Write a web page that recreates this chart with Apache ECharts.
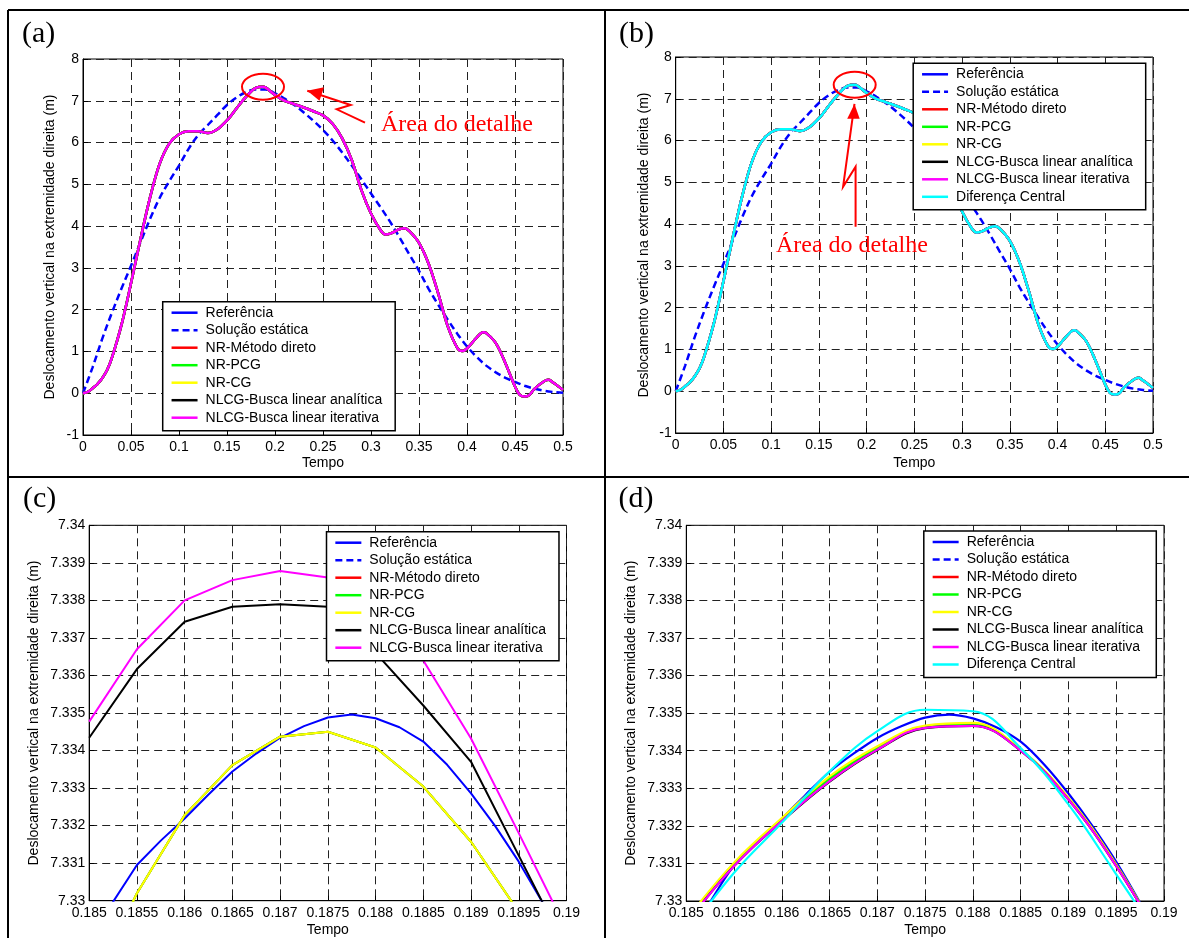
<!DOCTYPE html>
<html>
<head>
<meta charset="utf-8">
<script src="https://cdn.jsdelivr.net/npm/echarts@6/dist/echarts.min.js"></script>
<style>
  html, body { margin: 0; padding: 0; background: #fff; }
  #chart { width: 1189px; height: 938px; }
</style>
</head>
<body>
<div id="chart"></div>
<script>
// ---------- dados ----------
const nomesSeries = ['Referência', 'Solução estática', 'NR-Método direto', 'NR-PCG', 'NR-CG',
  'NLCG-Busca linear analítica', 'NLCG-Busca linear iterativa', 'Diferença Central'];

// resposta completa (0 a 0.5 s)
const tempoGeral = [0, 0.005, 0.01, 0.015, 0.02, 0.025, 0.03, 0.04, 0.05, 0.06, 0.07, 0.08, 0.09, 0.1,
  0.11, 0.12, 0.13, 0.14, 0.15, 0.16, 0.17, 0.18, 0.1875, 0.19, 0.2, 0.21, 0.22, 0.23, 0.24, 0.25,
  0.26, 0.27, 0.28, 0.29, 0.3, 0.31, 0.315, 0.32, 0.33, 0.335, 0.34, 0.35, 0.36, 0.37, 0.38, 0.39,
  0.395, 0.4, 0.41, 0.417, 0.42, 0.43, 0.44, 0.45, 0.455, 0.46, 0.465, 0.47, 0.48, 0.485, 0.49, 0.5];
const respostaDinamica = [0, 0.03, 0.12, 0.22, 0.36, 0.55, 0.84, 1.63, 2.63, 3.7, 4.7, 5.5, 5.98, 6.2,
  6.27, 6.27, 6.23, 6.32, 6.53, 6.82, 7.1, 7.31, 7.335, 7.32, 7.14, 7.0, 6.92, 6.84, 6.75, 6.65,
  6.45, 6.1, 5.58, 4.86, 4.3, 3.9, 3.8, 3.82, 3.93, 3.95, 3.88, 3.6, 3.1, 2.39, 1.6, 1.08,
  1.01, 1.07, 1.33, 1.46, 1.44, 1.2, 0.72, 0.16, -0.04, -0.08, -0.04, 0.1, 0.28, 0.32, 0.25, 0.08];

const tempoEstatico = [0, 0.01, 0.02, 0.03, 0.04, 0.05, 0.06, 0.07, 0.08, 0.09, 0.1, 0.11, 0.12, 0.13,
  0.14, 0.15, 0.16, 0.17, 0.18, 0.19, 0.2, 0.21, 0.22, 0.23, 0.24, 0.25, 0.26, 0.27, 0.28, 0.29, 0.3,
  0.31, 0.32, 0.33, 0.34, 0.35, 0.36, 0.37, 0.38, 0.39, 0.4, 0.41, 0.42, 0.43, 0.44, 0.45, 0.46, 0.47,
  0.48, 0.49, 0.5];
const solucaoEstatica = [0, 0.62, 1.3, 1.92, 2.5, 3.05, 3.62, 4.18, 4.68, 5.08, 5.45, 5.85, 6.18, 6.42,
  6.66, 6.9, 7.08, 7.21, 7.27, 7.27, 7.18, 7.05, 6.9, 6.72, 6.52, 6.3, 6.05, 5.76, 5.45, 5.12, 4.78,
  4.45, 4.1, 3.72, 3.32, 2.93, 2.5, 2.12, 1.76, 1.42, 1.12, 0.87, 0.66, 0.5, 0.37, 0.27, 0.18, 0.11,
  0.06, 0.03, 0.01];

// detalhe do pico (0.185 a 0.19 s)
const tempoReferencia = [0.185, 0.18525, 0.1855, 0.18575, 0.186, 0.18625, 0.1865, 0.18675, 0.187,
  0.18725, 0.1875, 0.18775, 0.188, 0.18825, 0.1885, 0.18875, 0.189, 0.18925, 0.1895, 0.18975, 0.19];
const referenciaDetalhe = [7.3288, 7.32997, 7.33095, 7.3316, 7.33219, 7.33283, 7.33344, 7.33392, 7.33434,
  7.33465, 7.33488, 7.33496, 7.33486, 7.33462, 7.33424, 7.33362, 7.33286, 7.332, 7.33104, 7.32995, 7.3288];

const tempoDetalhe = [0.185, 0.1855, 0.186, 0.1865, 0.187, 0.1875, 0.188, 0.1885, 0.189, 0.1895, 0.19];

// (c) passo de tempo original
const metodosNRC = [7.3275, 7.3302, 7.33228, 7.33361, 7.33437, 7.3345, 7.33408, 7.33304, 7.33157, 7.3297, 7.3275];
const nlcgAnaliticaC = [7.33434, 7.33617, 7.33743, 7.33783, 7.3379, 7.33783, 7.3366, 7.3352, 7.3337, 7.3312, 7.3287];
const nlcgIterativaC = [7.33477, 7.3367, 7.338, 7.33854, 7.33878, 7.33861, 7.3379, 7.3364, 7.33432, 7.3318, 7.32923];

// (d) passo de tempo refinado
const nrDiretoD = [7.32945, 7.33097, 7.33216, 7.33325, 7.33406, 7.33463, 7.3347, 7.33401, 7.33272, 7.33095, 7.3288];
const nrPcgD = [7.32945, 7.33098, 7.33217, 7.33326, 7.33407, 7.33464, 7.33471, 7.33402, 7.33273, 7.33096, 7.3288];
const nrCgD = [7.3295, 7.33102, 7.33221, 7.33332, 7.33412, 7.33467, 7.33474, 7.33403, 7.33275, 7.33097, 7.3288];
const nlcgAnaliticaD = [7.3294, 7.33093, 7.33212, 7.33318, 7.33402, 7.3346, 7.33466, 7.334, 7.3327, 7.33093, 7.3288];
const nlcgIterativaD = [7.3294, 7.33093, 7.33213, 7.33319, 7.33403, 7.33461, 7.33466, 7.334, 7.3327, 7.33093, 7.3288];
const diferencaCentralD = [7.3291, 7.33075, 7.33208, 7.33345, 7.33452, 7.33509, 7.33505, 7.33407, 7.33257, 7.33071, 7.3288];

// ---------- estilo ----------
const SANS = '"Liberation Sans", Arial, Helvetica, sans-serif';
const SERIF = '"Liberation Serif", "Times New Roman", serif';
const cores = {
  'Referência': '#0000ff', 'Solução estática': '#0000ff', 'NR-Método direto': '#ff0000',
  'NR-PCG': '#00ff00', 'NR-CG': '#ffff00', 'NLCG-Busca linear analítica': '#000000',
  'NLCG-Busca linear iterativa': '#ff00ff', 'Diferença Central': '#00ffff'
};

const pares = (t, v) => t.map((x, i) => [x, v[i]]);
const fmt = v => String(+v.toFixed(5));

function serie(nome, grade, t, v, largura, suave) {
  const tracejada = nome === 'Solução estática';
  return {
    type: 'line', name: nome, xAxisIndex: grade, yAxisIndex: grade,
    data: pares(t, v), symbol: 'none', smooth: suave, clip: true,
    lineStyle: { color: cores[nome], width: largura, type: tracejada ? [7, 4] : 'solid' },
    itemStyle: { color: cores[nome] }, emphasis: { disabled: true }, silent: true
  };
}

function eixoX(g, min, max, passo, gap) {
  return {
    type: 'value', gridIndex: g, min: min, max: max, interval: passo,
    name: 'Tempo', nameLocation: 'middle', nameGap: gap,
    nameTextStyle: { fontSize: 14, color: '#000', fontFamily: SANS },
    axisLine: { onZero: false, lineStyle: { color: '#000', width: 1 } },
    axisTick: { inside: true, length: 5, lineStyle: { color: '#000' } },
    axisLabel: { fontSize: 14, color: '#000', margin: 5, fontFamily: SANS, formatter: fmt,
      showMinLabel: true, showMaxLabel: true },
    splitLine: { show: true, lineStyle: { color: '#222', type: [8, 5], width: 1 } }
  };
}
function eixoY(g, min, max, passo, gap) {
  return {
    type: 'value', gridIndex: g, min: min, max: max, interval: passo,
    name: 'Deslocamento vertical na extremidade direita (m)', nameLocation: 'middle', nameGap: gap,
    nameTextStyle: { fontSize: 14, color: '#000', fontFamily: SANS },
    axisLine: { onZero: false, lineStyle: { color: '#000', width: 1 } },
    axisTick: { inside: true, length: 5, lineStyle: { color: '#000' } },
    axisLabel: { fontSize: 14, color: '#000', margin: 4, fontFamily: SANS, formatter: fmt,
      showMinLabel: true, showMaxLabel: true },
    splitLine: { show: true, lineStyle: { color: '#222', type: [8, 5], width: 1 } }
  };
}
function legenda(esq, topo, itens) {
  return {
    orient: 'vertical', left: esq, top: topo, itemWidth: 26, itemHeight: 14, itemGap: 3.5,
    padding: [4, 13, 6, 7.6], borderColor: '#000', borderWidth: 1.5, backgroundColor: '#fff',
    selectedMode: false, data: itens, z: 10,
    // só o traço da linha na amostra, sem marcador
    itemStyle: { opacity: 0, color: 'rgba(0,0,0,0)', borderWidth: 0 },
    lineStyle: { width: 2.5 },
    textStyle: { fontSize: 14, color: '#000', fontFamily: SANS, padding: [0, 0, 0, 3] }
  };
}

const sete = nomesSeries.slice(0, 7);
const grades = [
  { left: 83, top: 59, width: 480, height: 376 },
  { left: 675.7, top: 57, width: 477.3, height: 376 },
  { left: 89.2, top: 525.3, width: 477.3, height: 375.4 },
  { left: 686.3, top: 525.3, width: 477.7, height: 376.4 }
].map(g => Object.assign(g, { show: true, borderColor: '#000', borderWidth: 1, backgroundColor: '#fff' }));

const series = [];
// (a) e (b): resposta completa
[0, 1].forEach(g => {
  const lista = g === 0 ? sete : nomesSeries;
  lista.forEach(nome => {
    if (nome === 'Solução estática') series.push(serie(nome, g, tempoEstatico, solucaoEstatica, 2.5, 0.35));
    else series.push(serie(nome, g, tempoGeral, respostaDinamica, 2.5, 0.35));
  });
});
// (c)
series.push(serie('Referência', 2, tempoReferencia, referenciaDetalhe, 2, false));
series.push(serie('Solução estática', 2, tempoEstatico, solucaoEstatica, 2, false));
series.push(serie('NR-Método direto', 2, tempoDetalhe, metodosNRC, 2, false));
series.push(serie('NR-PCG', 2, tempoDetalhe, metodosNRC, 2, false));
series.push(serie('NR-CG', 2, tempoDetalhe, metodosNRC, 2, false));
series.push(serie('NLCG-Busca linear analítica', 2, tempoDetalhe, nlcgAnaliticaC, 2, false));
series.push(serie('NLCG-Busca linear iterativa', 2, tempoDetalhe, nlcgIterativaC, 2, false));
// (d)
series.push(serie('Referência', 3, tempoReferencia, referenciaDetalhe, 2.2, 0.3));
series.push(serie('Solução estática', 3, tempoEstatico, solucaoEstatica, 2.2, false));
series.push(serie('NR-Método direto', 3, tempoDetalhe, nrDiretoD, 2.2, 0.4));
series.push(serie('NR-PCG', 3, tempoDetalhe, nrPcgD, 2.2, 0.4));
series.push(serie('NR-CG', 3, tempoDetalhe, nrCgD, 2.2, 0.4));
series.push(serie('NLCG-Busca linear analítica', 3, tempoDetalhe, nlcgAnaliticaD, 2.2, 0.4));
series.push(serie('NLCG-Busca linear iterativa', 3, tempoDetalhe, nlcgIterativaD, 2.2, 0.4));
series.push(serie('Diferença Central', 3, tempoDetalhe, diferencaCentralD, 2.2, 0.4));

const chart = echarts.init(document.getElementById('chart'), null, { renderer: 'canvas' });
chart.setOption({
  animation: false,
  backgroundColor: '#fff',
  grid: grades,
  xAxis: [eixoX(0, 0, 0.5, 0.05, 21), eixoX(1, 0, 0.5, 0.05, 23),
          eixoX(2, 0.185, 0.19, 0.0005, 22), eixoX(3, 0.185, 0.19, 0.0005, 22)],
  yAxis: [eixoY(0, -1, 8, 1, 26), eixoY(1, -1, 8, 1, 24.5),
          eixoY(2, 7.33, 7.34, 0.001, 48.5), eixoY(3, 7.33, 7.34, 0.001, 48)],
  legend: [legenda(162.7, 301.7, sete), legenda(913.2, 63.3, nomesSeries),
           legenda(326.5, 531.7, sete), legenda(923.8, 531, nomesSeries)],
  series: series
});

// ---------- molduras, rótulos e destaque da área do detalhe ----------
const VERM = '#ff0000';
const linha = (x1, y1, x2, y2) => ({ type: 'line', z: 100, shape: { x1, y1, x2, y2 },
  style: { stroke: '#000', lineWidth: 2 } });
const rotulo = (txt, x, y) => ({ type: 'text', z: 100,
  style: { text: txt, x, y, font: '30px ' + SERIF, fill: '#000',
    align: 'left', verticalAlign: 'middle', textAlign: 'left', textVerticalAlign: 'middle' } });

function destaque(c, seta, ponta, texto) {
  const p = pts => pts.map(q => [c[0] + q[0], c[1] + q[1]]);
  return [
    { type: 'ellipse', z: 100, shape: { cx: c[0], cy: c[1], rx: 21, ry: 13 },
      style: { fill: 'none', stroke: VERM, lineWidth: 2 } },
    { type: 'polyline', z: 100, shape: { points: p(seta) },
      style: { stroke: VERM, lineWidth: 2, fill: null } },
    { type: 'polygon', z: 100, shape: { points: p(ponta) }, style: { fill: VERM } },
    { type: 'text', z: 100, style: { text: 'Área do detalhe', x: c[0] + texto[0], y: c[1] + texto[1],
      font: '24px ' + SERIF, fill: VERM, align: 'left', verticalAlign: 'middle',
      textAlign: 'left', textVerticalAlign: 'middle' } }
  ];
}

const centroA = chart.convertToPixel({ gridIndex: 0 }, [0.1875, 7.335]);
const centroB = chart.convertToPixel({ gridIndex: 1 }, [0.1875, 7.335]);

const graficos = [
  linha(8, 10, 1189, 10), linha(8, 10, 8, 938), linha(605, 10, 605, 938), linha(8, 477, 1189, 477),
  rotulo('(a)', 22, 34), rotulo('(b)', 619, 34), rotulo('(c)', 23, 499), rotulo('(d)', 618.5, 499)
].concat(
  destaque(centroA,
    [[44.3, 3.9], [87.7, 18.2], [73.7, 22.5], [102, 35.9]],
    [[44.3, 3.9], [61, 0.5], [56.5, 14]],
    [118, 38.2]),
  destaque(centroB,
    [[-0.2, 19.2], [-11.6, 101.9], [0.9, 81.9], [0.9, 141.9]],
    [[-0.2, 19.2], [-7.5, 34], [5, 34]],
    [-78.7, 160.5])
);
chart.setOption({ graphic: graficos });
</script>
</body>
</html>
